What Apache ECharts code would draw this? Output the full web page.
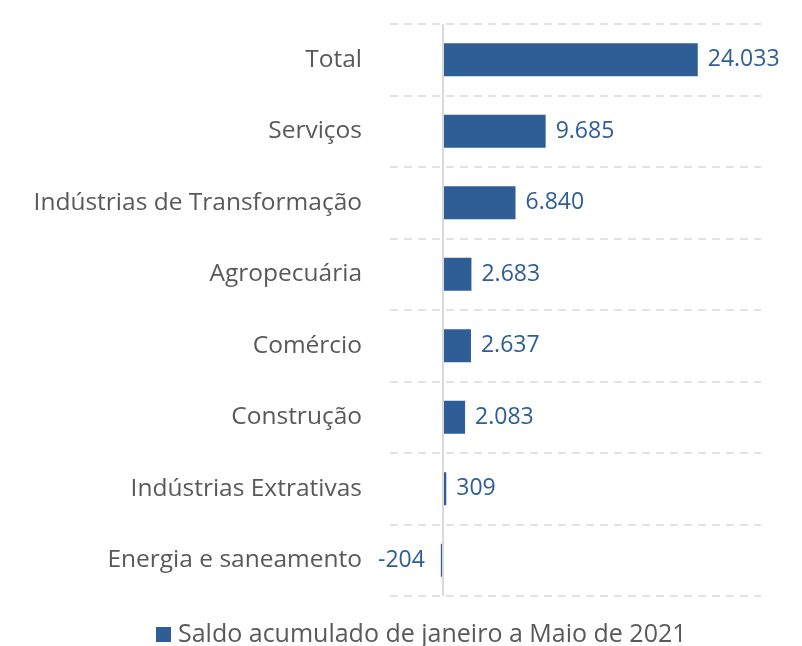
<!DOCTYPE html>
<html>
<head>
<meta charset="utf-8">
<script src="https://cdn.jsdelivr.net/npm/echarts@6/dist/echarts.min.js"></script>
<style>
  html, body { margin: 0; padding: 0; background: #fff; }
  #chart { width: 802px; height: 646px; }
</style>
</head>
<body>
<div id="chart"></div>
<script>
// setores (de cima para baixo)
var categories = [
  "Total",
  "Serviços",
  "Indústrias de Transformação",
  "Agropecuária",
  "Comércio",
  "Construção",
  "Indústrias Extrativas",
  "Energia e saneamento"
];
// saldo acumulado jan-mai 2021
var saldo = [24033, 9685, 6840, 2683, 2637, 2083, 309, -204];
var seriesName = "Saldo acumulado de janeiro a Maio de 2021";

var fontFamily = "'Open Sans', 'Noto Sans', sans-serif";
var barColor = "#2e5e95";

// formato pt-BR: ponto como separador de milhar
function fmt(v) {
  var s = String(Math.abs(v)).replace(/\B(?=(\d{3})+(?!\d))/g, ".");
  return (v < 0 ? "-" : "") + s;
}

var chart = echarts.init(document.getElementById("chart"));

var option = {
  backgroundColor: "#ffffff",
  animation: false,
  grid: {
    left: 390,
    right: 41,
    top: 24,
    bottom: 50,
    containLabel: false
  },
  legend: {
    data: [seriesName],
    top: 617,
    left: 151,
    icon: "rect",
    itemWidth: 15,
    itemHeight: 15,
    itemGap: 6,
    textStyle: {
      color: "#595959",
      fontSize: 25,
      fontFamily: fontFamily,
      padding: [0, 0, 0, 2]
    }
  },
  xAxis: {
    type: "value",
    min: -5000,
    max: 30000,
    show: false
  },
  yAxis: {
    type: "category",
    data: categories,
    inverse: true,
    axisLine: { show: false },
    axisTick: { show: false },
    splitLine: {
      show: true,
      lineStyle: { color: "#d9d9d9", type: [8, 6], width: 1.5 }
    },
    axisLabel: {
      color: "#595959",
      fontSize: 24.5,
      fontFamily: fontFamily,
      margin: 28
    }
  },
  series: [
    {
      name: seriesName,
      type: "bar",
      barWidth: 33,
      itemStyle: { color: barColor },
      data: saldo.map(function (v) {
        return {
          value: v,
          label: { position: v < 0 ? "left" : "right", distance: v < 0 ? 16 : 10 }
        };
      }),
      label: {
        show: true,
        color: barColor,
        fontSize: 23,
        fontFamily: fontFamily,
        formatter: function (p) { return fmt(p.value); }
      },
      markLine: {
        silent: true,
        symbol: "none",
        label: { show: false },
        lineStyle: { color: "#d9d9d9", type: "solid", width: 2 },
        data: [{ xAxis: 0 }]
      }
    }
  ]
};

chart.setOption(option);
</script>
</body>
</html>
